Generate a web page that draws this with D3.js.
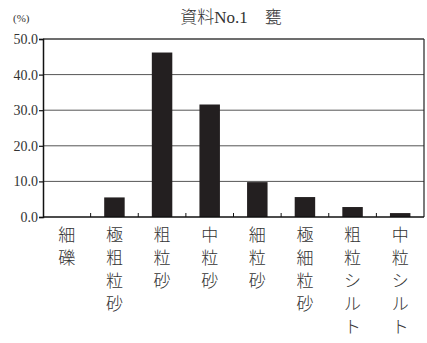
<!DOCTYPE html>
<html>
<head>
<meta charset="utf-8">
<script src="https://cdn.jsdelivr.net/npm/d3@7"></script>
<style>
  html, body { margin: 0; padding: 0; background: #fff; }
  svg { display: block; }
  text { font-family: "Liberation Serif", "Noto Sans CJK JP", serif; }
  .jp { font-weight: 300; }
</style>
</head>
<body>
<svg id="chart" width="427" height="343"></svg>
<script>
// Grain-size distribution (percent) for sample No.1
const categories = ["細礫", "極粗粒砂", "粗粒砂", "中粒砂", "細粒砂", "極細粒砂", "粗粒シルト", "中粒シルト"];
const values = [0, 5.5, 46.2, 31.6, 9.8, 5.6, 2.8, 1.1];
const yTicks = [0, 10, 20, 30, 40, 50];
const titleText = "資料No.1　甕";
const unitText = "(%)";

const svg = d3.select("#chart");
const margin = { top: 39, right: 3, bottom: 126, left: 43 };
const W = 427, H = 343;
const iw = W - margin.left - margin.right;
const ih = H - margin.top - margin.bottom;

const g = svg.append("g").attr("transform", `translate(${margin.left},${margin.top})`);

const x = d3.scaleBand().domain(categories).range([0, iw]).paddingInner(0).paddingOuter(0);
const y = d3.scaleLinear().domain([0, 50]).range([ih, 0]);

// horizontal grid lines
g.selectAll("line.grid").data(yTicks.filter(t => t > 0)).join("line")
  .attr("x1", 0).attr("x2", iw)
  .attr("y1", d => y(d)).attr("y2", d => y(d))
  .attr("stroke", "#555").attr("stroke-width", 1);

// bars
const barW = x.bandwidth() * 0.43;
g.selectAll("rect.bar").data(values).join("rect")
  .attr("x", (d, i) => x(categories[i]) + (x.bandwidth() - barW) / 2)
  .attr("y", d => y(d))
  .attr("width", barW)
  .attr("height", d => ih - y(d))
  .attr("fill", "#231f20");

// right border and top border
g.append("line").attr("x1", iw).attr("x2", iw).attr("y1", 0).attr("y2", ih)
  .attr("stroke", "#222").attr("stroke-width", 1.2);
g.append("line").attr("x1", 0).attr("x2", iw).attr("y1", 0).attr("y2", 0)
  .attr("stroke", "#333").attr("stroke-width", 1.2);

// y axis
const yAxis = d3.axisLeft(y).tickValues(yTicks).tickFormat(d3.format(".1f")).tickSize(4).tickPadding(1);
const ya = g.append("g").call(yAxis).attr("font-family", null);
ya.select(".domain").attr("stroke", "#111").attr("stroke-width", 1.5);
ya.selectAll(".tick line").attr("stroke", "#111").attr("stroke-width", 1.2);
ya.selectAll(".tick text").attr("font-size", 14).attr("fill", "#333");

// x axis: baseline with inward ticks at category boundaries
const xa = g.append("g").attr("transform", `translate(0,${ih})`);
xa.append("line").attr("x1", 0).attr("x2", iw).attr("y1", 0).attr("y2", 0)
  .attr("stroke", "#111").attr("stroke-width", 1.5);
xa.selectAll("line.tk").data(categories.slice(1)).join("line")
  .attr("x1", d => x(d)).attr("x2", d => x(d))
  .attr("y1", 0).attr("y2", -4)
  .attr("stroke", "#111").attr("stroke-width", 1);

// vertical category labels, one character per line
categories.forEach(c => {
  const cx = x(c) + x.bandwidth() / 2;
  const t = g.append("text").attr("class", "jp").attr("font-size", 17).attr("fill", "#333")
    .attr("text-anchor", "middle");
  Array.from(c).forEach((ch, k) => {
    t.append("tspan").attr("x", cx).attr("y", ih + 24 + k * 23).text(ch);
  });
});

// title and unit
svg.append("text").attr("class", "jp").attr("x", 231).attr("y", 23)
  .attr("text-anchor", "middle").attr("font-size", 17).attr("fill", "#333").text(titleText);
svg.append("text").attr("x", 13).attr("y", 22)
  .attr("font-size", 11).attr("fill", "#333").text(unitText);
</script>
</body>
</html>
